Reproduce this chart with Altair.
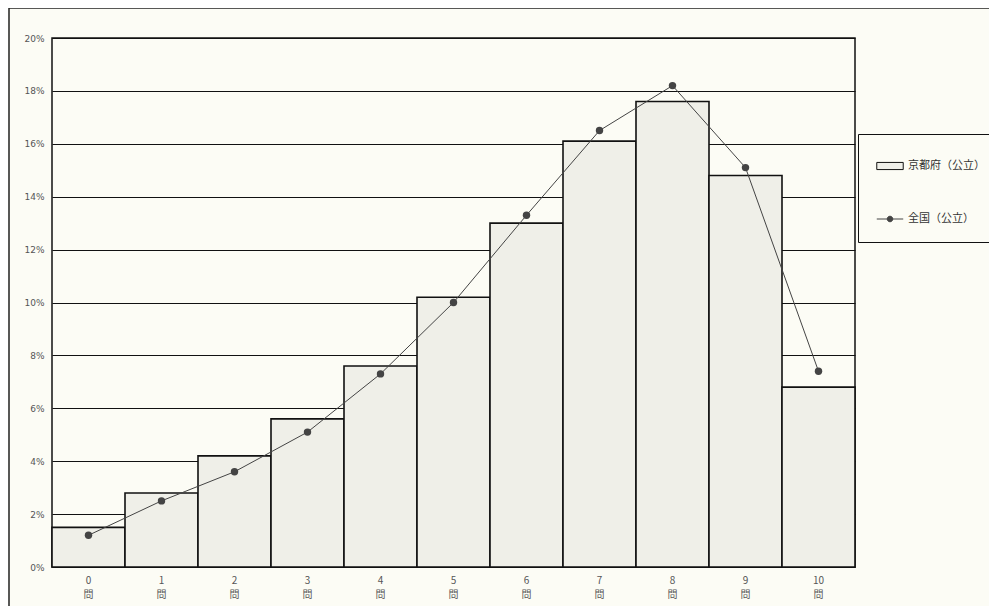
import altair as alt
import pandas as pd

categories = ["0", "1", "2", "3", "4", "5", "6", "7", "8", "9", "10"]
kyoto = [1.5, 2.8, 4.2, 5.6, 7.6, 10.2, 13.0, 16.1, 17.6, 14.8, 6.8]
national = [1.2, 2.5, 3.6, 5.1, 7.3, 10.0, 13.3, 16.5, 18.2, 15.1, 7.4]
series_names = ["京都府（公立）", "全国（公立）"]
y_ticks = [0, 2, 4, 6, 8, 10, 12, 14, 16, 18, 20]

df_bar = pd.DataFrame({"q": categories, "v": kyoto, "s": series_names[0]})
df_line = pd.DataFrame({"q": categories, "v": national, "s": series_names[1]})
df_leg = pd.DataFrame({"s": series_names})

BG = "#fcfcf5"
BAR_FILL = "#efefe8"
LINE_COL = "#444444"

x_enc = alt.X(
    "q:N",
    sort=categories,
    scale=alt.Scale(domain=categories, paddingInner=0, paddingOuter=0),
    axis=alt.Axis(
        title=None, labelAngle=0, ticks=False, domain=False,
        labelExpr="[datum.label, '問']", labelPadding=8,
        labelColor="#555555", labelFontSize=10, labelLineHeight=14,
        labelFont="Noto Sans CJK JP",
    ),
)
y_enc = alt.Y(
    "v:Q",
    scale=alt.Scale(domain=[0, 20], nice=False),
    axis=alt.Axis(
        title=None, values=y_ticks, grid=True, gridColor="#111111", gridWidth=1,
        ticks=False, domain=False, labelExpr="datum.value + '%'",
        labelPadding=8, labelColor="#555555", labelFontSize=9,
        labelFont="DejaVu Sans",
    ),
)

bars = alt.Chart(df_bar).mark_bar(
    fill=BAR_FILL, stroke="#111111", strokeWidth=1.6
).encode(x=x_enc, y=y_enc)

line = alt.Chart(df_line).mark_line(
    color=LINE_COL, strokeWidth=1
).encode(x=alt.X("q:N", sort=categories), y="v:Q")

points = alt.Chart(df_line).mark_point(
    filled=True, color=LINE_COL, size=55, shape="circle", opacity=1
).encode(x=alt.X("q:N", sort=categories), y="v:Q")

rect_path = "M-1,-0.27H1V0.27H-1Z"
linedot_path = "M-1,0H1M0.21,0A0.21,0.21,0,1,1,-0.21,0A0.21,0.21,0,1,1,0.21,0Z"

leg = alt.Legend(
    title=None, orient="none", legendX=806, legendY=96,
    strokeColor="#111111", padding=18, rowPadding=33,
    symbolSize=700, symbolStrokeWidth=1, symbolOpacity=1,
    labelFontSize=11, labelColor="#333333", labelOffset=4,
    labelFont="Noto Sans CJK JP", fillColor=BG,
)

legend_layer = alt.Chart(df_leg).mark_point(
    filled=True, opacity=0, size=700
).encode(
    fill=alt.Fill("s:N", scale=alt.Scale(domain=series_names, range=[BAR_FILL, LINE_COL]), legend=leg),
    stroke=alt.Stroke("s:N", scale=alt.Scale(domain=series_names, range=["#111111", LINE_COL]), legend=leg),
    shape=alt.Shape("s:N", scale=alt.Scale(domain=series_names, range=[rect_path, linedot_path]), legend=leg),
)

frame = alt.Chart(alt.Data(values=[{"a": 1}])).mark_rect(
    fillOpacity=0, stroke="#222222", strokeWidth=1.5
).encode(
    x=alt.value(-43), x2=alt.value(990), y=alt.value(-30), y2=alt.value(620)
)

chart = alt.layer(frame, bars, line, points, legend_layer).properties(
    width=803, height=529,
    autosize=alt.AutoSizeParams(type="none"),
    padding={"left": 44, "top": 30, "right": 134, "bottom": 39},
    background=BG,
).configure_view(
    stroke="#111111", strokeWidth=1.5
)

chart.save("out.html", embed_options={"renderer": "svg", "actions": False})
